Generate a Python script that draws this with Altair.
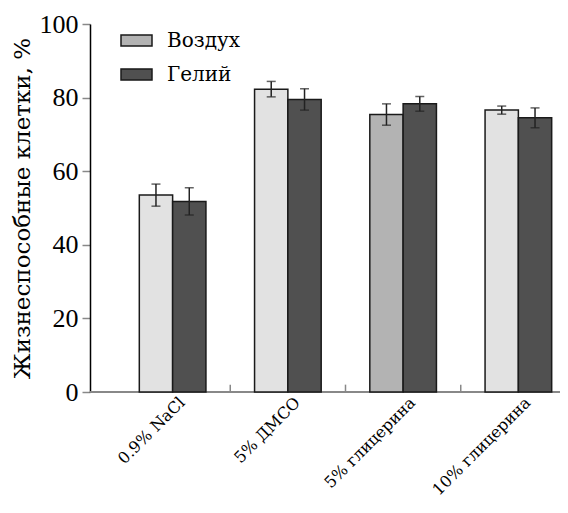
import altair as alt
import pandas as pd

cats = ["0.9% NaCl", "5% ДМСО", "5% глицерина", "10% глицерина"]
series = ["Воздух", "Гелий"]
air = [53.5, 82.3, 75.4, 76.6]
air_err = [3.0, 2.1, 2.9, 1.1]
he = [51.8, 79.5, 78.3, 74.5]
he_err = [3.7, 2.9, 2.0, 2.7]

rows = []
for i, c in enumerate(cats):
    rows.append(dict(cat=c, s=series[0], v=air[i], lo=air[i] - air_err[i], hi=air[i] + air_err[i]))
    rows.append(dict(cat=c, s=series[1], v=he[i], lo=he[i] - he_err[i], hi=he[i] + he_err[i]))
df = pd.DataFrame(rows)
tick_df = pd.DataFrame({"cat": cats[1:]})

W, H = 470, 368
FONT = "Liberation Serif"
CYR = "DejaVu Serif"

xscale = alt.Scale(domain=cats, range=[25, 486], paddingInner=0, paddingOuter=0)
xoff = alt.Scale(domain=series, paddingInner=0, paddingOuter=0.73)
yscale = alt.Scale(domain=[0, 100], nice=False)

base = alt.Chart(df)

bars = base.mark_bar(stroke="#1a1a1a", strokeWidth=1.5).encode(
    x=alt.X("cat:N", scale=xscale, sort=cats, title=None,
            axis=alt.Axis(labelAngle=-45, labelAlign="right", labelBaseline="top",
                          labelFontSize=16, labelFont=CYR, labelColor="black",
                          labelOffset=4, labelPadding=2, ticks=False, domain=False)),
    xOffset=alt.XOffset("s:N", scale=xoff, sort=series),
    y=alt.Y("v:Q", scale=yscale, title="Жизнеспособные клетки, %",
            axis=alt.Axis(values=[0, 20, 40, 60, 80, 100], grid=False,
                          labelFontSize=26, labelFont=FONT, labelColor="black",
                          titleFontSize=23, titleFont=CYR, titleFontWeight="normal",
                          titleColor="black", titlePadding=5,
                          domainColor="black", domainWidth=1.5,
                          tickColor="#888888", tickWidth=1.5, tickSize=8, labelPadding=4)),
    fill=alt.condition(
        "datum.s == 'Воздух' && datum.cat != '5% глицерина'",
        alt.value("#e2e2e2"),
        alt.Fill("s:N", scale=alt.Scale(domain=series, range=["#b3b3b3", "#505050"]),
                 legend=alt.Legend(title=None, orient="none", legendX=30, legendY=0,
                                   symbolType="M-1,-0.36L1,-0.36L1,0.36L-1,0.36Z",
                                   symbolSize=961, symbolStrokeColor="#1a1a1a",
                                   symbolStrokeWidth=1.5, labelFontSize=20, labelFont=CYR,
                                   labelColor="black", labelOffset=14, rowPadding=7,
                                   padding=0)),
    ),
)

err = base.mark_rule(color="#222222", strokeWidth=1.5).encode(
    x=alt.X("cat:N", scale=xscale, sort=cats),
    xOffset=alt.XOffset("s:N", scale=xoff, sort=series),
    y="lo:Q", y2="hi:Q",
)
cap_lo = base.mark_tick(color="#222222", thickness=1.5, size=9).encode(
    x=alt.X("cat:N", scale=xscale, sort=cats),
    xOffset=alt.XOffset("s:N", scale=xoff, sort=series),
    y="lo:Q",
)
cap_hi = base.mark_tick(color="#222222", thickness=1.5, size=9).encode(
    x=alt.X("cat:N", scale=xscale, sort=cats),
    xOffset=alt.XOffset("s:N", scale=xoff, sort=series),
    y="hi:Q",
)

sep = alt.Chart(tick_df).mark_rule(color="#888888", strokeWidth=1.5).encode(
    x=alt.X("cat:N", scale=xscale, sort=cats, bandPosition=0),
    y=alt.datum(0, scale=yscale), y2=alt.datum(2),
)

xline = alt.Chart(tick_df).mark_rule(color="#888888", strokeWidth=2).encode(
    x=alt.value(0), x2=alt.value(W), y=alt.datum(0, scale=yscale),
)

chart = alt.layer(xline, sep, bars, err, cap_lo, cap_hi).properties(
    width=W, height=H, background="white",
    autosize=alt.AutoSizeParams(type="none"),
    padding={"left": 82, "top": 16, "right": 0, "bottom": 114},
).configure(font=FONT).configure_view(stroke=None)

chart.save("out.html", embed_options={"renderer": "svg", "actions": False})
